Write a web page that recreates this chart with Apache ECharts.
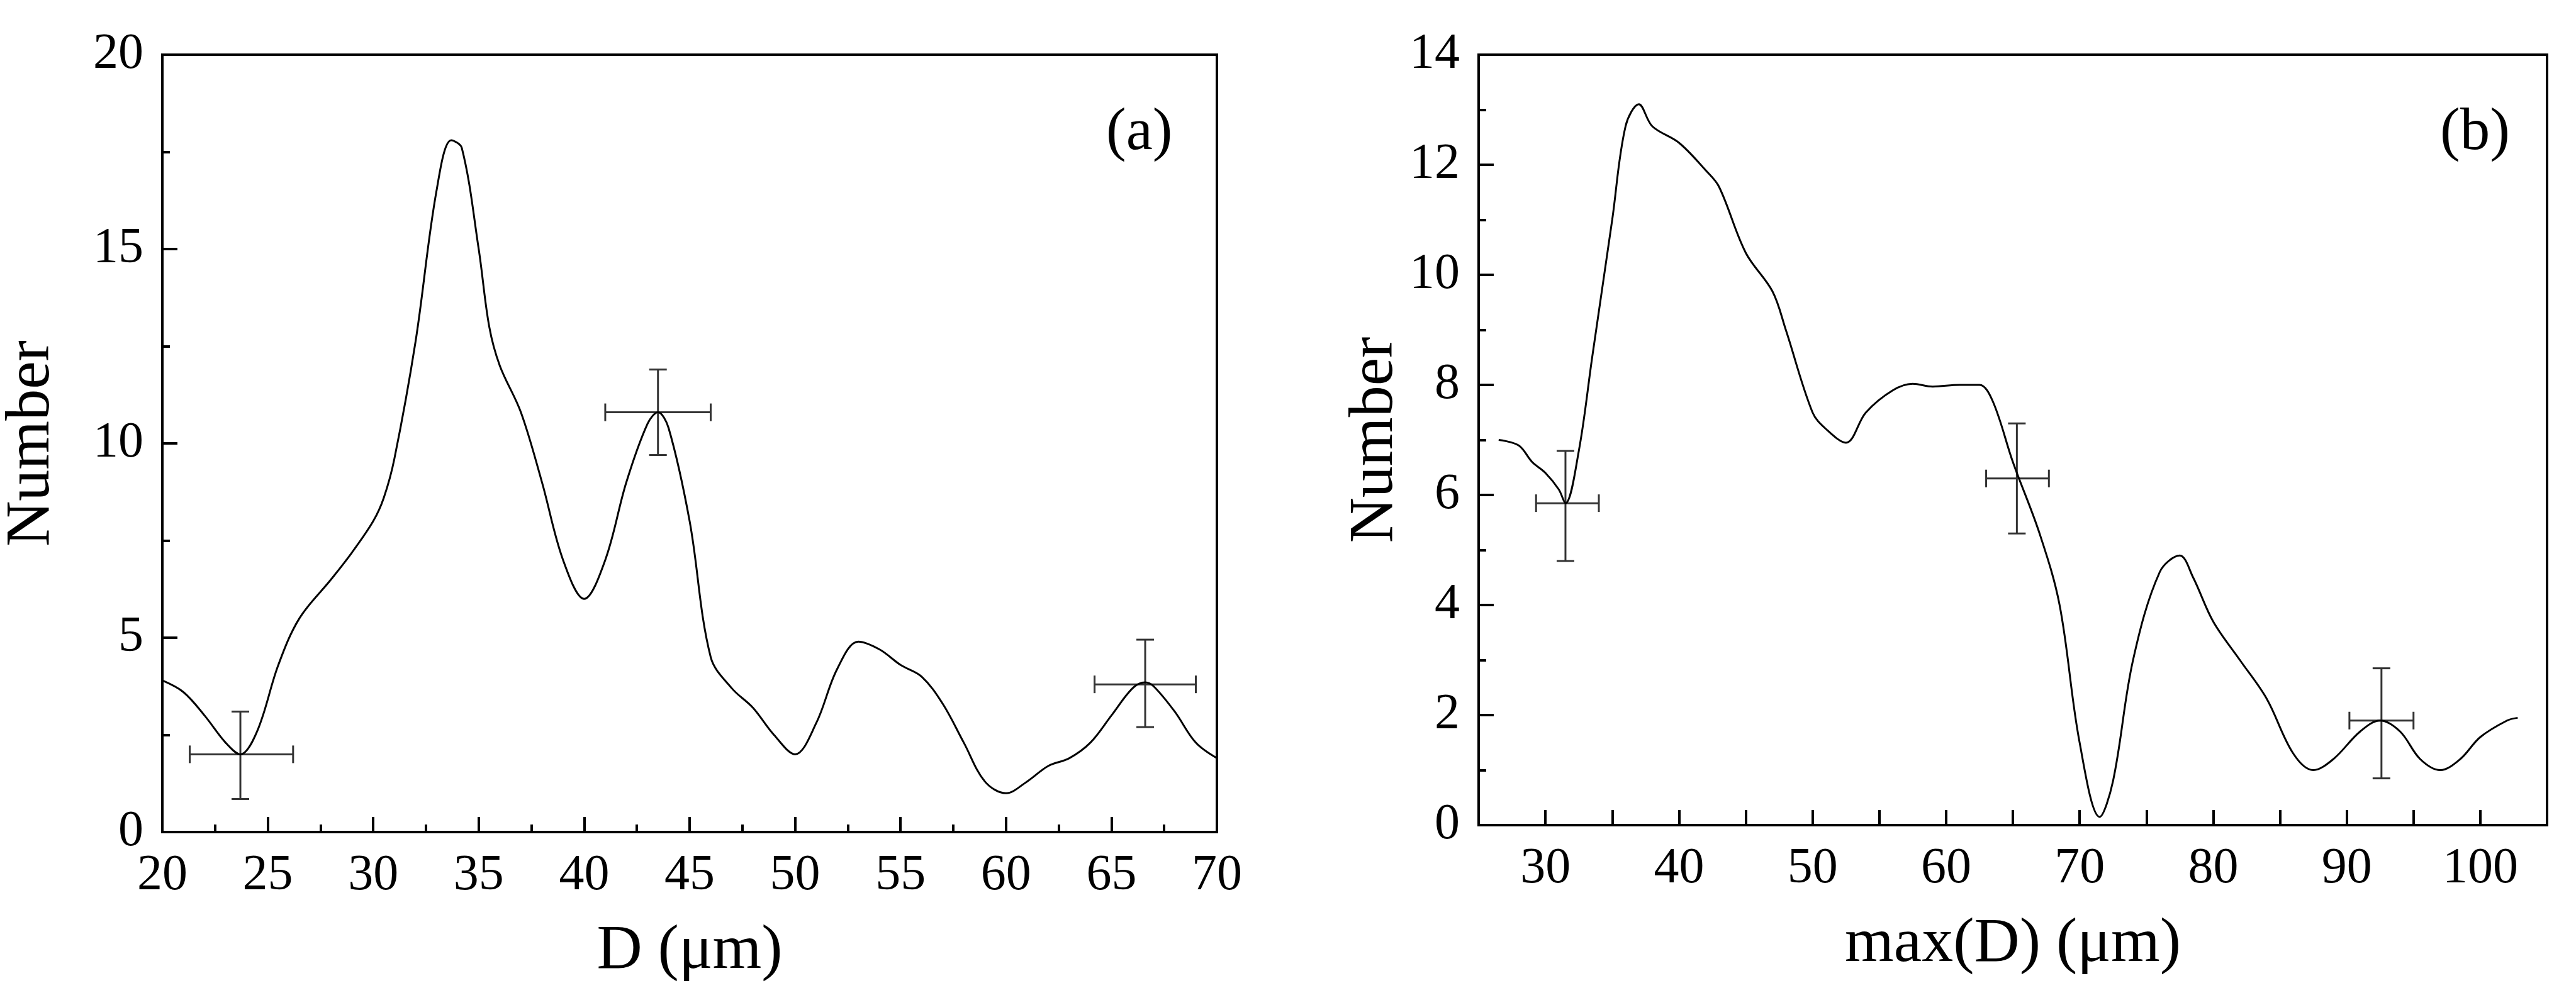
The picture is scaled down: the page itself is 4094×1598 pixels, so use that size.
<!DOCTYPE html>
<html><head><meta charset="utf-8">
<script src="https://cdn.jsdelivr.net/npm/echarts@6/dist/echarts.min.js"></script>
<style>html,body{margin:0;padding:0;background:#fff}#c{width:4094px;height:1598px}</style>
</head><body><div id="c"></div>
<script>
// Panel (a): D (µm) vs Number
const aX = [20,21,22,23,23.7,24.5,25.5,26.5,28,29,30,30.5,31,32,33,33.7,34.2,35,35.5,36,37,38,39,40,41,42,43,43.5,44,45,46,47,48,49,50,51,52,53,54,55,56,57,58,59,60,61,62,63,64,65,66,66.6,67,68,69,70];
const aY = [3.9,3.6,3.0,2.3,2.0,2.6,4.3,5.5,6.5,7.2,8.0,8.6,9.6,12.6,16.5,17.8,17.6,15.0,13.0,12.0,10.8,9.0,7.0,6.0,7.0,9.0,10.5,10.8,10.4,8.0,4.5,3.7,3.2,2.5,2.0,2.8,4.2,4.9,4.7,4.3,4.0,3.3,2.3,1.3,1.0,1.3,1.7,1.9,2.3,3.0,3.7,3.85,3.75,3.1,2.3,1.9];
// error bars: x, y, xLow, xHigh, yLow, yHigh
const aErr = [[23.7,2.0,21.3,26.2,0.85,3.1],[43.5,10.8,41.0,46.0,9.7,11.9],[66.6,3.8,64.2,69.0,2.7,4.95]];
// Panel (b): max(D) (µm) vs Number
const bX = [26.5,28,29,30,31,31.5,32.5,33.5,35,36,37,38,40,42,43,45,47,48,50,51,52.5,54,56,57.5,59,61,62.5,63.5,65,67,68.5,70,71.5,72.5,74,76,77.5,78.5,80,82,84,86,87.5,89,91,92.5,94,95.5,97,98.5,100,102,102.8];
const bY = [7.0,6.9,6.6,6.4,6.1,5.85,6.8,8.5,11.0,12.7,13.1,12.7,12.4,11.9,11.6,10.4,9.7,9.0,7.5,7.2,6.95,7.5,7.9,8.02,7.97,8.0,8.0,7.7,6.6,5.3,4.0,1.5,0.15,0.8,3.0,4.6,4.9,4.5,3.7,3.0,2.3,1.3,1.0,1.2,1.7,1.9,1.7,1.2,1.0,1.2,1.6,1.9,1.95];
const bErr = [[31.5,5.85,29.3,34.0,4.8,6.8],[65.3,6.3,63.0,67.7,5.3,7.3],[92.6,1.9,90.2,95.0,0.85,2.85]];

const FONT = 'Liberation Serif';
const zip = (xs, ys) => xs.map((x, i) => [x, ys[i]]);
function errRender(params, api) {
  const x = api.value(0), y = api.value(1);
  const l = api.coord([api.value(2), y]), r = api.coord([api.value(3), y]);
  const lo = api.coord([x, api.value(4)]), hi = api.coord([x, api.value(5)]);
  const cap = 14, st = {stroke: '#333', lineWidth: 3};
  const L = (x1,y1,x2,y2) => ({type:'line', shape:{x1,y1,x2,y2}, style:st});
  return {type:'group', children:[
    L(l[0],l[1],r[0],r[1]), L(l[0],l[1]-cap,l[0],l[1]+cap), L(r[0],r[1]-cap,r[0],r[1]+cap),
    L(lo[0],lo[1],hi[0],hi[1]), L(lo[0]-cap,lo[1],lo[0]+cap,lo[1]), L(hi[0]-cap,hi[1],hi[0]+cap,hi[1])
  ]};
}
const axLine = {show:true, lineStyle:{color:'#000', width:4}};
const lbl = {color:'#000', fontFamily:FONT, fontSize:80, margin:30};
const nameStyle = {color:'#000', fontFamily:FONT, fontSize:100};
function xAx(idx, min, max, interval, name, minor, fmt) {
  return {type:'value', gridIndex:idx, min, max, interval, name, nameLocation:'middle', nameGap:140,
    nameTextStyle:nameStyle, axisLine:axLine, splitLine:{show:false},
    axisTick:{inside:true, length:24, lineStyle:{width:4,color:'#000'}},
    minorTick:{show:minor, splitNumber:2, length:12, lineStyle:{width:4,color:'#000'}},
    axisLabel:Object.assign({}, lbl, {formatter:fmt || (v=>String(v))})};
}
function yAx(idx, min, max, interval, gap) {
  return {type:'value', gridIndex:idx, min, max, interval, name:'Number', nameLocation:'middle', nameGap:gap,
    nameTextStyle:nameStyle, axisLine:axLine, splitLine:{show:false},
    axisTick:{inside:true, length:24, lineStyle:{width:4,color:'#000'}},
    minorTick:{show:true, splitNumber:2, length:12, lineStyle:{width:4,color:'#000'}},
    axisLabel:Object.assign({}, lbl)};
}
const chart = echarts.init(document.getElementById('c'));
chart.setOption({
  animation:false, backgroundColor:'#fff',
  grid:[
    {left:254, top:87, width:1680, height:1236, show:true, borderColor:'#000', borderWidth:4},
    {left:2350, top:87, width:1698, height:1225, show:true, borderColor:'#000', borderWidth:4}
  ],
  xAxis:[
    xAx(0,20,70,5,'D (μm)',true),
    xAx(1,25,105,5,'max(D) (μm)',false, v => (v % 10 === 0 ? String(v) : ''))
  ],
  yAxis:[ yAx(0,0,20,5,157), yAx(1,0,14,2,112) ],
  graphic:[
    {type:'text', left:1758, top:165, style:{text:'(a)', font:'95px "Liberation Serif"', fill:'#000'}},
    {type:'text', left:3878, top:165, style:{text:'(b)', font:'95px "Liberation Serif"', fill:'#000'}}
  ],
  series:[
    {type:'line', xAxisIndex:0, yAxisIndex:0, data:zip(aX,aY), smooth:0.35, showSymbol:false, lineStyle:{color:'#000', width:3}},
    {type:'custom', xAxisIndex:0, yAxisIndex:0, data:aErr, renderItem:errRender, z:3},
    {type:'line', xAxisIndex:1, yAxisIndex:1, data:zip(bX,bY), smooth:0.35, showSymbol:false, lineStyle:{color:'#000', width:3}},
    {type:'custom', xAxisIndex:1, yAxisIndex:1, data:bErr, renderItem:errRender, z:3}
  ]
});
</script></body></html>
